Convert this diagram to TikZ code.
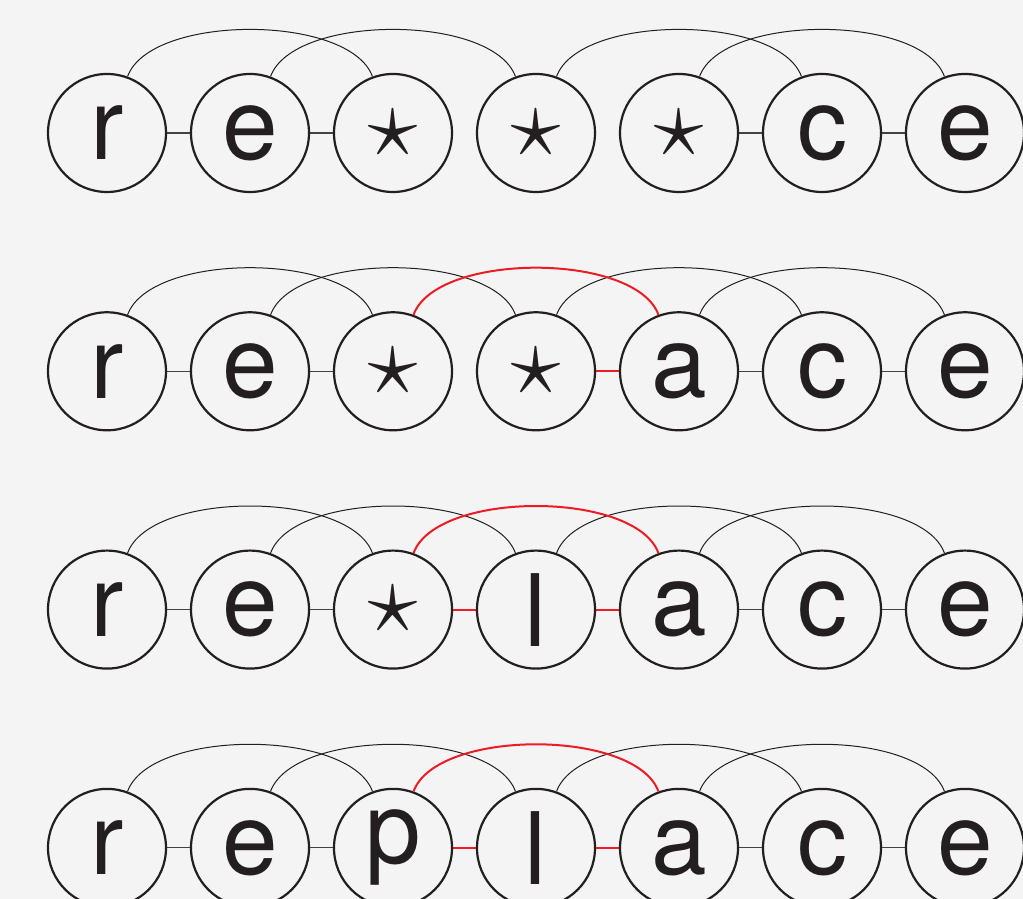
\RequirePackage{fix-cm}
\documentclass[tikz,border=0pt]{standalone}
\usepackage{fontspec}
\setmainfont{TeX Gyre Heros}
\usetikzlibrary{calc}
\definecolor{paper}{RGB}{244,244,244}
\definecolor{ink}{RGB}{35,31,32}
\definecolor{hit}{RGB}{237,28,36}
\newcommand{\wild}{$\star$}

\tikzset{
  letter/.style={circle, draw=ink, line width=1.1pt, minimum size=59pt, inner sep=0pt,
    text=ink, font=\fontsize{50}{60}\selectfont},
  bond/.style={ink!85, line width=0.55pt},
  link/.style={ink, line width=0.5pt},
  hot/.style={hit, line width=1pt},
  hop/.style={out=70, in=110, looseness=0.7}
}

\begin{document}
\begin{tikzpicture}[x=0.5pt, y=0.5pt]
  \useasboundingbox (0,0) rectangle (1023,899);
  \fill[paper] (0,0) rectangle (1023,899);
  \clip (0,0) rectangle (1023,899);

  % step 1: r e * * * c e
  \foreach \l [count=\i from 0] in {r,e,\wild,\wild,\wild,c,e}
    \node[letter] (s1-\i) at (107+143*\i, 766) {\l};
  \foreach \a/\b in {0/1,1/2,4/5,5/6} \draw[bond] (s1-\a) -- (s1-\b);
  \foreach \a/\b in {0/2,1/3,3/5,4/6} \draw[link] (s1-\a.70) to[hop] (s1-\b.110);

  % step 2: r e * * a c e
  \foreach \l [count=\i from 0] in {r,e,\wild,\wild,a,c,e}
    \node[letter] (s2-\i) at (107+143*\i, 527.7) {\l};
  \foreach \a/\b in {0/1,1/2,4/5,5/6} \draw[bond] (s2-\a) -- (s2-\b);
  \foreach \a/\b in {0/2,1/3,3/5,4/6} \draw[link] (s2-\a.70) to[hop] (s2-\b.110);
  \draw[hot] (s2-3) -- (s2-4);
  \draw[hot] (s2-2.70) to[hop] (s2-4.110);

  % step 3: r e * l a c e
  \foreach \l [count=\i from 0] in {r,e,\wild,l,a,c,e}
    \node[letter] (s3-\i) at (107+143*\i, 289.4) {\l};
  \foreach \a/\b in {0/1,1/2,4/5,5/6} \draw[bond] (s3-\a) -- (s3-\b);
  \foreach \a/\b in {0/2,1/3,3/5,4/6} \draw[link] (s3-\a.70) to[hop] (s3-\b.110);
  \draw[hot] (s3-2) -- (s3-3) (s3-3) -- (s3-4);
  \draw[hot] (s3-2.70) to[hop] (s3-4.110);

  % step 4: r e p l a c e
  \foreach \l [count=\i from 0] in {r,e,p,l,a,c,e}
    \node[letter] (s4-\i) at (107+143*\i, 51.1) {\l};
  \foreach \a/\b in {0/1,1/2,4/5,5/6} \draw[bond] (s4-\a) -- (s4-\b);
  \foreach \a/\b in {0/2,1/3,3/5,4/6} \draw[link] (s4-\a.70) to[hop] (s4-\b.110);
  \draw[hot] (s4-2) -- (s4-3) (s4-3) -- (s4-4);
  \draw[hot] (s4-2.70) to[hop] (s4-4.110);
\end{tikzpicture}
\end{document}
